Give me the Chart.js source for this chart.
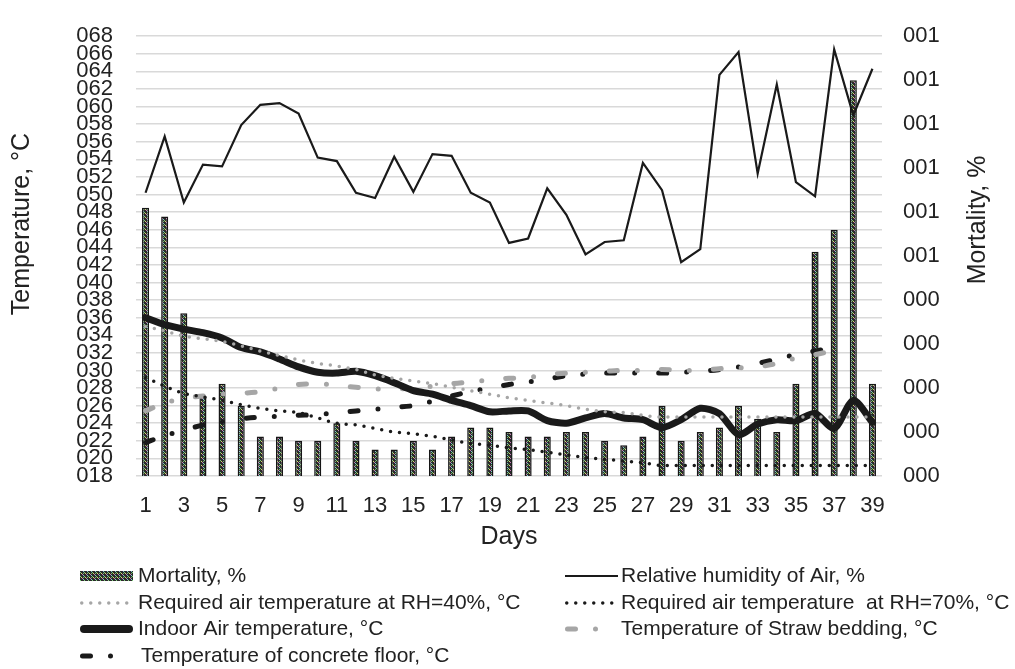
<!DOCTYPE html>
<html>
<head>
<meta charset="utf-8">
<script src="https://cdn.jsdelivr.net/npm/chart.js@4.4.0/dist/chart.umd.min.js"></script>
<style>
  html, body { margin: 0; padding: 0; background: #fff; }
  #wrap { width: 1015px; height: 669px; position: relative; }
</style>
</head>
<body>
<div id="wrap"><canvas id="chart"></canvas></div>
<script>
const days = ['1','2','3','4','5','6','7','8','9','10','11','12','13','14','15','16','17','18','19','20',
  '21','22','23','24','25','26','27','28','29','30','31','32','33','34','35','36','37','38','39'];

// right axis (0..1)
const mortality = [0.61, 0.59, 0.37, 0.18, 0.21, 0.16, 0.09, 0.09, 0.08, 0.08, 0.12, 0.08, 0.06, 0.06, 0.08,
  0.06, 0.09, 0.11, 0.11, 0.10, 0.09, 0.09, 0.10, 0.10, 0.08, 0.07, 0.09, 0.16, 0.08, 0.10, 0.11, 0.16,
  0.13, 0.10, 0.21, 0.51, 0.56, 0.90, 0.21];

// left axis
const humidity = [50.2, 56.6, 49.1, 53.4, 53.2, 57.9, 60.2, 60.4, 59.2, 54.2, 53.8, 50.2, 49.6, 54.3, 50.3,
  54.6, 54.4, 50.2, 49.1, 44.5, 45.0, 50.7, 47.7, 43.2, 44.6, 44.8, 53.6, 50.5, 42.3, 43.8, 63.6, 66.2,
  52.4, 62.5, 51.4, 49.8, 66.5, 59.0, 64.3];
const reqRH40 = [35.0, 34.5, 33.9, 33.6, 33.3, 32.8, 32.2, 31.7, 31.2, 30.8, 30.5, 30.1, 29.5, 29.1, 28.8,
  28.5, 28.1, 27.7, 27.3, 26.9, 26.6, 26.3, 26.0, 25.6, 25.3, 25.2, 24.9, 24.7, 24.7, 24.7, 24.7, 24.7,
  24.7, 24.7, 24.7, 24.7, 24.7, 24.7, 24.7];
const reqRH70 = [29.2, 28.2, 27.4, 27.0, 26.6, 26.1, 25.7, 25.4, 25.2, 24.6, 24.0, 23.8, 23.4, 23.0, 22.8,
  22.5, 22.1, 21.7, 21.5, 21.2, 21.0, 20.7, 20.4, 20.1, 19.9, 19.7, 19.5, 19.2, 19.2, 19.2, 19.2, 19.2,
  19.2, 19.2, 19.2, 19.2, 19.2, 19.2, 19.2];
const indoorAir = [36.0, 35.2, 34.7, 34.3, 33.7, 32.6, 32.1, 31.3, 30.4, 29.8, 29.7, 29.9, 29.4, 28.6, 27.7,
  27.3, 26.6, 26.0, 25.3, 25.4, 25.4, 24.3, 24.0, 24.6, 25.1, 24.6, 24.4, 23.5, 24.4, 25.7, 25.1, 22.7,
  23.9, 24.4, 24.3, 25.1, 23.4, 26.6, 24.1];
const strawBed = [25.4, 26.3, 26.8, 27.1, 27.3, 27.4, 27.6, 28.0, 28.4, 28.5, 28.3, 28.1, 27.9, 27.9, 28.0,
  28.2, 28.5, 28.7, 28.9, 29.1, 29.2, 29.5, 29.7, 29.8, 29.9, 30.0, 30.0, 30.1, 30.0, 30.0, 30.2, 30.3,
  30.4, 30.8, 31.4, 31.8, 32.3];
const concreteFloor = [21.8, 22.6, 23.2, 23.8, 24.2, 24.5, 24.7, 24.8, 24.9, 25.0, 25.2, 25.4, 25.6, 25.8, 26.0,
  26.5, 27.1, 27.6, 28.0, 28.4, 28.7, 29.0, 29.4, 29.6, 29.7, 29.7, 29.7, 29.7, 29.8, 29.9, 30.1, 30.4,
  30.8, 31.3, 31.8, 32.2, 32.6];

const TXT = '#222222';
const FONT = "'Liberation Sans', Arial, sans-serif";
Chart.defaults.font.family = FONT;
Chart.defaults.color = TXT;

const canvas = document.getElementById('chart');
const ctx = canvas.getContext('2d');

// speckled hatch used by Excel-like bar fill
function makeHatch() {
  const c = document.createElement('canvas');
  c.width = 4; c.height = 4;
  const g = c.getContext('2d');
  g.fillStyle = '#2b2b2b';
  g.fillRect(0, 0, 4, 4);
  const specks = [['#7fd07a', 0, 0], ['#d8dc6a', 1, 1], ['#c87ab8', 2, 2], ['#7ac8d0', 3, 3],
                  ['#6fb86f', 3, 1]];
  specks.forEach(([col, x, y]) => { g.fillStyle = col; g.fillRect(x, y, 1, 1); });
  return ctx.createPattern(c, 'repeat');
}
const hatch = makeHatch();

const gridLegend = {
  id: 'gridLegend',
  afterDraw(chart) {
    const c = chart.ctx;
    const ds = chart.data.datasets;
    const symX = [80, 565];
    const textX = [138, 621];
    const rowY = [576, 603, 629, 656];
    // [dataset index, column, row]
    const items = [[6, 0, 0], [0, 1, 0], [1, 0, 1], [2, 1, 1], [3, 0, 2], [4, 1, 2], [5, 0, 3]];
    c.save();
    items.forEach(([i, col, row]) => {
      const d = ds[i];
      const x0 = symX[col], y = rowY[row];
      if (d.type === 'line') {
        const dashed = d.borderDash && d.borderDash.length === 4;
        c.strokeStyle = d.borderColor;
        c.lineWidth = d.legendWidth || d.borderWidth;
        c.lineCap = d.borderCapStyle || 'butt';
        c.setLineDash(d.borderDash || []);
        c.beginPath();
        const pad = c.lineCap === 'round' ? c.lineWidth / 2 : 0;
        c.moveTo(x0 + pad, y);
        c.lineTo(dashed ? x0 + 36 : x0 + 53 - pad, y);
        c.stroke();
        c.setLineDash([]);
      } else {
        c.fillStyle = hatch;
        c.fillRect(x0, y - 5, 53, 10);
      }
      c.fillStyle = TXT;
      c.font = '21px ' + FONT;
      c.textBaseline = 'middle';
      c.textAlign = 'left';
      c.fillText(d.label, textX[col] + (i === 5 ? 3 : 0), y);
    });

    // vertical axis titles (both read bottom-to-top)
    c.font = '25px ' + FONT;
    c.textAlign = 'center';
    c.textBaseline = 'middle';
    [['Temperature, °C', 22, 224], ['Mortality, %', 978, 220]].forEach(([t, x, y]) => {
      c.save();
      c.translate(x, y);
      c.rotate(-Math.PI / 2);
      c.fillText(t, 0, 0);
      c.restore();
    });
    c.restore();
  }
};

new Chart(ctx, {
  type: 'bar',
  data: {
    labels: days,
    datasets: [
      {
        type: 'line', label: 'Relative humidity of Air, %', data: humidity, yAxisID: 'y',
        borderColor: '#1a1a1a', borderWidth: 2.2, pointRadius: 0, tension: 0, order: 0
      },
      {
        type: 'line', label: 'Required air temperature at RH=40%, °C', data: reqRH40, yAxisID: 'y',
        borderColor: '#a6a6a6', borderWidth: 3.5, borderDash: [0, 9], borderCapStyle: 'round',
        pointRadius: 0, cubicInterpolationMode: 'monotone', order: 0
      },
      {
        type: 'line', label: 'Required air temperature  at RH=70%, °C', data: reqRH70, yAxisID: 'y',
        borderColor: '#1a1a1a', borderWidth: 3.5, borderDash: [0, 9], borderCapStyle: 'round',
        pointRadius: 0, cubicInterpolationMode: 'monotone', order: 0
      },
      {
        type: 'line', label: 'Indoor Air temperature, °C', data: indoorAir, yAxisID: 'y',
        borderColor: '#1a1a1a', borderWidth: 7, borderCapStyle: 'round', borderJoinStyle: 'round',
        legendWidth: 8, pointRadius: 0, tension: 0.25, order: 0
      },
      {
        type: 'line', label: 'Temperature of Straw bedding, °C', data: strawBed, yAxisID: 'y',
        borderColor: '#a6a6a6', borderWidth: 5, borderDash: [8, 20, 0, 24], borderCapStyle: 'round',
        pointRadius: 0, cubicInterpolationMode: 'monotone', order: 0
      },
      {
        type: 'line', label: 'Temperature of concrete floor, °C', data: concreteFloor, yAxisID: 'y',
        borderColor: '#1a1a1a', borderWidth: 5, borderDash: [8, 20, 0, 24], borderCapStyle: 'round',
        pointRadius: 0, cubicInterpolationMode: 'monotone', order: 0
      },
      {
        type: 'bar', label: 'Mortality, %', data: mortality, yAxisID: 'y1',
        backgroundColor: hatch, borderColor: '#151515', borderWidth: 1.5,
        barPercentage: 0.37, categoryPercentage: 1, order: 1
      }
    ]
  },
  options: {
    responsive: true,
    maintainAspectRatio: false,
    animation: false,
    devicePixelRatio: 1,
    layout: { padding: { top: 22, right: 0, bottom: 117, left: 0 } },
    plugins: { legend: { display: false }, tooltip: { enabled: false } },
    scales: {
      x: {
        grid: { display: false, drawTicks: false },
        border: { display: false },
        ticks: {
          autoSkip: false, maxRotation: 0, padding: 17, font: { size: 22 }, color: TXT,
          callback: function (v, i) { return i % 2 === 0 ? this.getLabelForValue(v) : ''; }
        },
        title: { display: true, text: 'Days', font: { size: 25 }, color: TXT, padding: 0 },
        afterFit: s => { s.height = 76; }
      },
      y: {
        position: 'left', min: 18, max: 68,
        grid: { color: '#d9d9d9', lineWidth: 1.5, drawTicks: false },
        border: { display: false },
        ticks: {
          stepSize: 2, autoSkip: false, padding: 23, font: { size: 22 }, color: TXT,
          callback: v => String(v).padStart(3, '0')
        },
        afterFit: s => { s.width = 136; }
      },
      y1: {
        position: 'right', min: 0, max: 1,
        grid: { display: false, drawTicks: false },
        border: { display: false },
        ticks: {
          stepSize: 0.1, autoSkip: false, padding: 21, font: { size: 22 }, color: TXT,
          callback: v => String(Math.round(v)).padStart(3, '0')
        },
        afterFit: s => { s.width = 133; }
      }
    }
  },
  plugins: [gridLegend]
});
</script>
</body>
</html>
